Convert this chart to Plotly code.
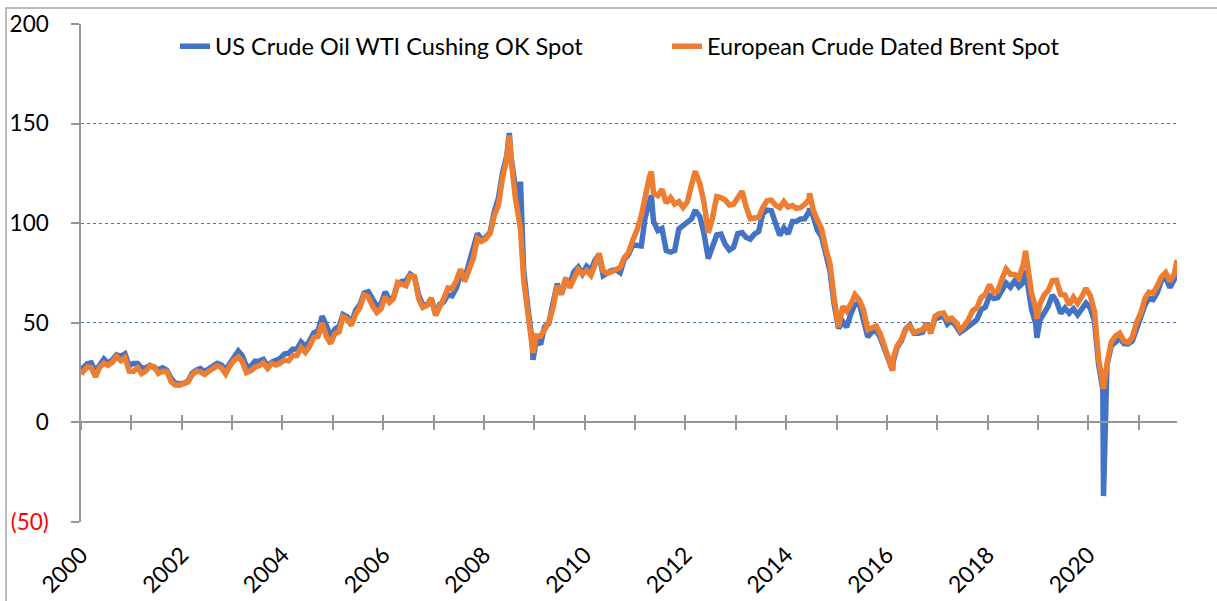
import pandas as pd
import plotly.graph_objects as go

# Monthly spot prices (USD/bbl), Jan 2000 .. Sep 2021, plotted mid-month
wti_monthly = [
    27.3, 29.4, 29.9, 25.7, 28.8, 31.8, 29.7, 31.3, 33.9, 33.1, 34.4, 28.4,   # 2000
    29.6, 29.6, 27.3, 27.5, 28.6, 27.6, 26.4, 27.4, 26.2, 22.2, 19.6, 19.4,   # 2001
    19.7, 20.7, 24.5, 26.2, 27.0, 25.5, 27.0, 28.4, 29.7, 28.8, 26.4, 29.5,   # 2002
    33.0, 35.8, 33.5, 28.2, 28.1, 30.7, 30.8, 31.6, 28.3, 30.3, 31.1, 32.1,   # 2003
    34.3, 34.7, 36.7, 36.8, 40.3, 38.0, 40.8, 44.9, 45.9, 53.3, 48.5, 43.2,   # 2004
    46.8, 48.2, 54.2, 53.0, 49.8, 56.4, 59.0, 65.0, 65.6, 62.3, 58.3, 59.4,   # 2005
    65.5, 61.6, 62.7, 69.4, 70.8, 71.0, 74.4, 73.0, 63.8, 58.9, 59.1, 62.0,   # 2006
    54.5, 59.3, 60.4, 64.0, 63.5, 67.5, 74.1, 72.4, 79.9, 85.8, 94.8, 91.7,   # 2007
    93.0, 95.4, 105.5, 112.6, 125.4, 133.9, 133.4, 116.7, 104.1, 76.6, 57.3, 41.1,  # 2008
    41.7, 39.1, 47.9, 49.7, 59.0, 69.6, 64.2, 71.1, 69.4, 75.7, 78.0, 74.5,   # 2009
    78.3, 76.4, 81.2, 84.3, 73.7, 75.3, 76.3, 76.6, 75.2, 81.9, 84.3, 89.2,   # 2010
    89.2, 88.6, 102.9, 109.5, 100.9, 96.3, 97.3, 86.3, 85.5, 86.3, 97.2, 98.6,  # 2011
    100.3, 102.2, 106.2, 103.3, 94.7, 82.3, 87.9, 94.1, 94.5, 89.5, 86.5, 87.9,  # 2012
    94.8, 95.3, 92.9, 92.0, 94.5, 95.8, 104.7, 106.6, 106.3, 100.5, 93.9, 97.6,  # 2013
    94.6, 100.8, 100.8, 102.1, 102.2, 105.8, 103.6, 96.5, 93.2, 84.4, 75.8, 59.3,  # 2014
    47.2, 50.6, 47.8, 54.5, 59.3, 59.8, 50.9, 42.9, 45.5, 46.2, 42.4, 37.2,   # 2015
    31.7, 30.3, 37.6, 40.8, 46.7, 48.8, 44.7, 44.7, 45.2, 49.8, 45.7, 52.0,   # 2016
    52.5, 53.5, 49.3, 51.1, 48.5, 45.2, 46.6, 48.0, 49.8, 51.6, 56.6, 57.9,   # 2017
    63.7, 62.2, 62.7, 66.3, 70.0, 67.9, 71.0, 68.1, 70.2, 70.8, 57.0, 49.5,   # 2018
    51.4, 55.0, 58.2, 63.9, 60.8, 54.7, 57.4, 54.8, 57.0, 54.0, 57.0, 59.9,   # 2019
    57.5, 50.5, 29.2, 16.6, 28.6, 38.3, 40.7, 42.3, 39.6, 39.4, 40.9, 47.0,   # 2020
    52.0, 59.0, 62.3, 61.7, 65.2, 71.4, 72.5, 67.7, 71.7,                     # 2021
]

brent_monthly = [
    25.5, 27.8, 27.5, 22.8, 27.7, 29.8, 28.7, 30.2, 33.1, 31.0, 32.6, 25.7,   # 2000
    25.6, 27.5, 24.5, 25.7, 28.3, 27.9, 24.6, 25.7, 25.6, 20.5, 18.8, 18.7,   # 2001
    19.4, 20.3, 23.7, 25.7, 25.4, 24.1, 25.7, 26.7, 28.4, 27.5, 24.3, 28.3,   # 2002
    31.2, 32.8, 30.6, 25.0, 25.9, 27.7, 28.4, 29.9, 27.1, 29.6, 28.8, 29.8,   # 2003
    31.3, 30.9, 33.6, 33.6, 37.6, 35.2, 38.2, 42.7, 43.2, 49.8, 43.1, 39.6,   # 2004
    44.5, 45.5, 53.1, 51.9, 48.7, 54.4, 57.5, 64.0, 62.9, 58.5, 55.2, 56.9,   # 2005
    63.0, 60.2, 62.1, 70.3, 69.8, 68.6, 73.7, 73.2, 62.0, 57.8, 58.8, 62.5,   # 2006
    53.7, 57.6, 62.1, 67.5, 67.2, 71.1, 76.9, 70.8, 77.2, 82.3, 92.4, 90.9,   # 2007
    92.2, 95.0, 103.6, 109.1, 122.8, 132.3, 132.7, 113.2, 97.2, 71.6, 52.5, 40.0,  # 2008
    43.4, 43.3, 46.5, 50.2, 57.3, 68.6, 64.4, 72.5, 67.7, 72.8, 76.7, 74.5,   # 2009
    76.2, 73.8, 78.8, 84.8, 76.0, 74.8, 75.6, 77.0, 77.8, 82.7, 85.3, 91.5,   # 2010
    96.5, 103.7, 114.6, 123.3, 115.0, 113.8, 117.0, 110.2, 112.8, 109.6, 110.8, 107.9,  # 2011
    110.7, 119.3, 125.5, 119.8, 110.3, 95.2, 102.6, 113.4, 112.9, 111.7, 109.1, 109.5,  # 2012
    113.0, 116.1, 108.5, 102.3, 102.6, 102.9, 107.9, 111.3, 111.6, 109.1, 107.8, 110.8,  # 2013
    108.1, 108.9, 107.5, 107.8, 109.5, 111.8, 106.8, 101.6, 97.1, 87.4, 79.4, 62.3,  # 2014
    47.8, 58.1, 55.9, 59.5, 64.1, 61.5, 56.6, 46.5, 47.6, 48.4, 44.3, 38.0,   # 2015
    30.7, 32.2, 38.2, 41.6, 46.7, 48.3, 45.0, 45.8, 46.6, 49.5, 44.7, 53.3,   # 2016
    54.6, 54.9, 51.6, 52.3, 50.3, 46.4, 48.5, 51.7, 56.2, 57.5, 62.7, 64.4,   # 2017
    69.1, 65.3, 66.0, 72.1, 77.0, 74.4, 74.3, 72.5, 78.9, 81.0, 64.8, 57.4,   # 2018
    59.4, 64.0, 66.1, 71.2, 71.3, 64.2, 63.9, 59.0, 62.8, 59.7, 63.2, 67.3,   # 2019
    63.7, 55.7, 32.0, 18.4, 29.4, 40.3, 43.2, 44.7, 40.9, 40.2, 42.7, 50.0,   # 2020
    54.8, 62.3, 65.4, 64.8, 68.5, 73.2, 75.2, 70.8, 74.5,                     # 2021
]

# Individual daily spot prints (start, extremes, last day)
spot_dates = ["2000-01-04", "2008-07-03", "2008-09-22", "2008-12-22", "2011-04-29",
              "2012-03-13", "2014-06-20", "2016-02-11", "2018-10-03", "2018-12-24",
              "2020-04-20", "2021-10-05"]
wti_spot = [25.6, 145.3, 120.9, 31.4, 113.9, 106.7, 107.3, 26.2, 76.4, 42.5, -37.0, 77.5]
brent_spot = [24.0, 144.0, 97.0, 35.0, 125.9, 126.2, 115.0, 26.0, 86.1, 52.0, 17.0, 81.5]

y_ticks = [-50, 0, 50, 100, 150, 200]
y_tick_text = ["<span style='color:#FF0000'>(50)</span>", "0", "50", "100", "150", "200"]
tick_years = list(range(2000, 2022))
label_years = list(range(2000, 2021, 2))

month_dates = pd.date_range("2000-01-01", periods=len(wti_monthly), freq="MS") + pd.Timedelta(days=14)
df = pd.concat([
    pd.DataFrame({"date": month_dates, "wti": wti_monthly, "brent": brent_monthly}),
    pd.DataFrame({"date": pd.to_datetime(spot_dates), "wti": wti_spot, "brent": brent_spot}),
]).sort_values("date")

BLUE = "#4472C4"
ORANGE = "#ED7D31"
AXIS_GRAY = "#969696"
FONT = "Lato, 'Open Sans', sans-serif"

x_start = pd.Timestamp("2000-01-01")
x_end = df["date"].max()

fig = go.Figure()
fig.add_trace(go.Scatter(x=df["date"], y=df["wti"], mode="lines",
                         name="US Crude Oil WTI Cushing OK Spot",
                         line=dict(color=BLUE, width=5.5)))
fig.add_trace(go.Scatter(x=df["date"], y=df["brent"], mode="lines",
                         name="European Crude Dated Brent Spot",
                         line=dict(color=ORANGE, width=5.5)))
# carriers for the overlaid zero-crossing axes (ticks below and above the line)
for ax in ("x2", "x3"):
    fig.add_trace(go.Scatter(x=[x_start], y=[None], xaxis=ax, yaxis="y",
                             showlegend=False, hoverinfo="skip"))

year_ticks = [pd.Timestamp(f"{y}-01-01") for y in tick_years]
label_ticks = [pd.Timestamp(f"{y}-01-01") for y in label_years]

fig.update_layout(
    width=1217, height=601,
    margin=dict(l=81, r=40, t=24, b=79),
    paper_bgcolor="white", plot_bgcolor="white",
    font=dict(family=FONT, size=22, color="black"),
    showlegend=True,
    legend=dict(orientation="h", x=94 / 1096, xanchor="left", y=0.955, yanchor="middle",
                font=dict(size=23.5), bgcolor="rgba(0,0,0,0)", traceorder="normal",
                entrywidth=447, entrywidthmode="pixels"),
    xaxis=dict(type="date", range=[x_start, x_end], tickvals=label_ticks,
               ticktext=[str(y) for y in label_years], tickangle=-45,
               showgrid=False, showline=False, ticks="", zeroline=False,
               ticklabelstandoff=14, tickfont=dict(size=23), automargin=False),
    xaxis2=dict(type="date", overlaying="x", matches="x", anchor="free", position=0.2,
                showline=True, linecolor=AXIS_GRAY, linewidth=1.5,
                ticks="outside", ticklen=7, tickwidth=1.5, tickcolor=AXIS_GRAY,
                tickvals=year_ticks, showticklabels=False, showgrid=False, zeroline=False),
    xaxis3=dict(type="date", overlaying="x", matches="x", anchor="free", position=0.2,
                showline=False, ticks="inside", ticklen=7, tickwidth=1.5, tickcolor=AXIS_GRAY,
                tickvals=year_ticks, showticklabels=False, showgrid=False, zeroline=False),
    yaxis=dict(range=[-50, 200], tickvals=y_ticks, ticktext=y_tick_text,
               showline=True, linecolor=AXIS_GRAY, linewidth=1.5,
               ticks="outside", ticklen=8, tickwidth=1.5, tickcolor=AXIS_GRAY,
               ticklabelstandoff=18, automargin=False,
               showgrid=True, gridcolor=BLUE, griddash="dot", gridwidth=1,
               zeroline=False, tickfont=dict(size=22.5)),
    shapes=[dict(type="rect", xref="paper", yref="paper",
                 x0=-75 / 1096, x1=1.2, y0=-0.3, y1=514 / 498,
                 line=dict(color="#A6A6A6", width=1.5), fillcolor="rgba(0,0,0,0)",
                 layer="below")],
)

fig.write_html("out.html")
